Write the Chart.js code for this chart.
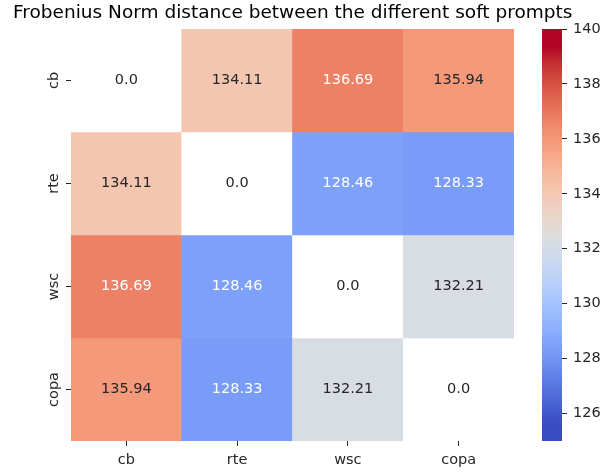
<!DOCTYPE html>
<html>
<head>
<meta charset="utf-8">
<script src="https://cdn.jsdelivr.net/npm/chart.js@4"></script>
<style>
  html, body { margin: 0; padding: 0; background: #fff; }
  #wrap { position: relative; width: 614px; height: 473px; }
  #heat { position: absolute; left: 0; top: 0; }
  #cbar { position: absolute; left: 530px; top: 0; }
</style>
</head>
<body>
<div id="wrap">
  <canvas id="heat" width="614" height="473"></canvas>
  <canvas id="cbar" width="84" height="473"></canvas>
</div>
<script>
// data
const prompts = ['cb', 'rte', 'wsc', 'copa'];
const cbRow = [0.0, 134.11, 136.69, 135.94];
const rteRow = [134.11, 0.0, 128.46, 128.33];
const wscRow = [136.69, 128.46, 0.0, 132.21];
const copaRow = [135.94, 128.33, 132.21, 0.0];
const vmin = 125;
const vmax = 140;
const cbarTicks = [126, 128, 130, 132, 134, 136, 138, 140];
const chartTitle = 'Frobenius Norm distance between the different soft prompts';

// coolwarm colormap, 33 stops
const coolwarm = [
	[59,76,192],[68,90,204],[77,104,215],[87,117,225],[98,130,234],[108,142,241],
	[119,154,247],[130,165,251],[141,176,254],[152,185,255],[163,194,255],[174,201,253],
	[184,208,249],[194,213,244],[204,217,238],[213,219,230],[221,221,221],[229,216,209],
	[236,211,197],[241,204,185],[245,196,173],[247,187,160],[247,177,148],[247,166,135],
	[244,154,123],[241,141,111],[236,127,99],[229,112,88],[222,96,77],[213,80,66],
	[203,62,56],[192,40,47],[180,4,38]
];
// the picture's colours sit a little further from the grey middle
const contrast = 1.1;

const cmap = (t) => {
	t = 0.5 + (t - 0.5) * contrast;
	t = Math.max(0, Math.min(1, t));
	const f = t * (coolwarm.length - 1);
	const i = Math.min(Math.floor(f), coolwarm.length - 2);
	const k = f - i;
	return coolwarm[i].map((c, j) => Math.round(c + (coolwarm[i + 1][j] - c) * k));
};

const cellRgb = (v) => v < vmin ? [255, 255, 255] : cmap((v - vmin) / (vmax - vmin));
const rgbStr = (c) => `rgb(${c[0]},${c[1]},${c[2]})`;

// seaborn picks the annotation colour from the cell luminance
const textColor = (c) => {
	const lin = c.map(x => {
		x = x / 255;
		return x <= 0.03928 ? x / 12.92 : Math.pow((x + 0.055) / 1.055, 2.4);
	});
	const lum = 0.2126 * lin[0] + 0.7152 * lin[1] + 0.0722 * lin[2];
	return lum > 0.408 ? '#262626' : '#ffffff';
};

const fmt = (v) => Number.isInteger(v) ? v.toFixed(1) : String(v);

const font = { family: 'DejaVu Sans', size: 14.5 };
const tickCol = '#262626';

const rows = [cbRow, rteRow, wscRow, copaRow];
const datasets = rows.map((row, r) => ({
	label: prompts[r],
	data: row.map(() => [r, r + 1]),
	values: row,
	backgroundColor: row.map(v => rgbStr(cellRgb(v))),
	borderWidth: 0,
	grouped: false,
	barPercentage: 1,
	categoryPercentage: 1
}));

const annotate = {
	id: 'annotate',
	afterDatasetsDraw(chart) {
		const ctx = chart.ctx;
		ctx.save();
		ctx.font = `${font.size}px "${font.family}"`;
		ctx.textAlign = 'center';
		ctx.textBaseline = 'middle';
		chart.data.datasets.forEach((ds, di) => {
			chart.getDatasetMeta(di).data.forEach((el, i) => {
				const v = ds.values[i];
				ctx.fillStyle = textColor(cellRgb(v));
				ctx.fillText(fmt(v), el.x, (el.y + el.base) / 2);
			});
		});
		ctx.restore();
	}
};

new Chart(document.getElementById('heat'), {
	type: 'bar',
	data: { labels: prompts, datasets },
	options: {
		responsive: false,
		animation: false,
		layout: { padding: { left: 13, right: 0, top: 0, bottom: 0 } },
		plugins: {
			legend: { display: false },
			tooltip: { enabled: false },
			title: {
				display: true,
				text: chartTitle,
				align: 'start',
				color: '#000',
				font: { family: 'DejaVu Sans', size: 18.5, weight: 'normal', lineHeight: 1.2 },
				padding: { top: 2, bottom: 4.8 }
			}
		},
		scales: {
			x: {
				type: 'category',
				grid: { drawOnChartArea: false, offset: false, tickLength: 5, tickColor: tickCol },
				border: { display: false },
				ticks: { font, color: tickCol, padding: 6, maxRotation: 0 },
				afterFit: s => { s.height = 32; }
			},
			y: {
				type: 'linear',
				min: 0,
				max: 4,
				reverse: true,
				afterBuildTicks: s => { s.ticks = prompts.map((p, i) => ({ value: i + 0.5 })); },
				grid: { drawOnChartArea: false, tickLength: 5, tickColor: tickCol },
				border: { display: false },
				ticks: {
					font, color: tickCol, padding: -5.5,
					minRotation: 90, maxRotation: 90, crossAlign: 'center',
					callback: v => prompts[Math.floor(v)]
				},
				afterFit: s => { s.width = 58; }
			},
			// empty right axis that leaves room for the colour bar
			gap: {
				type: 'linear',
				position: 'right',
				min: 0,
				max: 1,
				grid: { display: false },
				border: { display: false },
				ticks: { display: false },
				afterFit: s => { s.width = 100; }
			}
		}
	},
	plugins: [annotate]
});

const gradientFill = (c) => {
	const { chart } = c;
	if (!chart.chartArea) return null;
	const y = chart.scales.y;
	const g = chart.ctx.createLinearGradient(0, y.getPixelForValue(vmin), 0, y.getPixelForValue(vmax));
	for (let i = 0; i <= 48; i++) g.addColorStop(i / 48, rgbStr(cmap(i / 48)));
	return g;
};

new Chart(document.getElementById('cbar'), {
	type: 'bar',
	data: {
		labels: [''],
		datasets: [{ data: [[vmin, vmax]], backgroundColor: gradientFill, borderWidth: 0, barPercentage: 1, categoryPercentage: 1 }]
	},
	options: {
		responsive: false,
		animation: false,
		layout: { padding: { left: 12, top: 29, bottom: 32, right: 0 } },
		plugins: { legend: { display: false }, tooltip: { enabled: false } },
		scales: {
			x: { display: false },
			y: {
				position: 'right',
				min: vmin,
				max: vmax,
				afterBuildTicks: s => { s.ticks = cbarTicks.map(v => ({ value: v })); },
				grid: { drawOnChartArea: false, tickLength: 5, tickColor: tickCol },
				border: { display: false },
				ticks: { font, color: tickCol, padding: 6 },
				afterFit: s => { s.width = 52; }
			}
		}
	}
});
</script>
</body>
</html>
